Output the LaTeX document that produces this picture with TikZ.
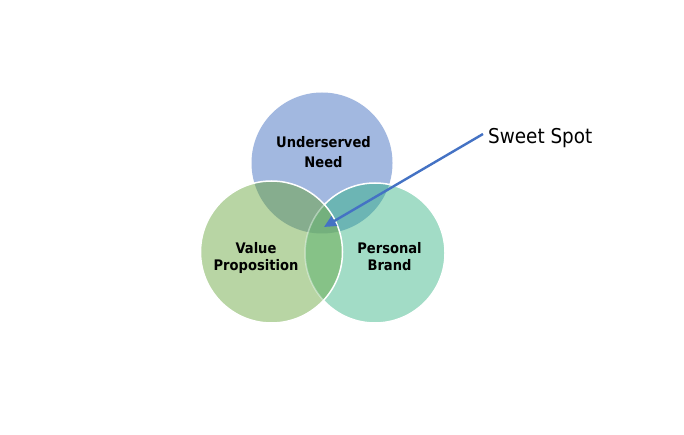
\documentclass[tikz,border=0pt]{standalone}
\usepackage{fontspec}
\usetikzlibrary{arrows.meta}
\newfontfamily\labfont{DejaVu Sans Condensed}
\definecolor{cT}{HTML}{A2B8E0}
\definecolor{cL}{HTML}{B8D5A4}
\definecolor{cR}{HTML}{A2DCC6}
\definecolor{cTL}{HTML}{86AD8E}
\definecolor{cTR}{HTML}{6CB5B4}
\definecolor{cLR}{HTML}{86C287}
\definecolor{cTLR}{HTML}{74B07D}
\definecolor{arrowblue}{HTML}{4472C4}
\def\pT{(322,163) circle[radius=70.5bp]}
\def\pL{(271.5,252) circle[radius=71bp]}
\def\pR{(375,253) circle[radius=70bp]}
\newcommand\vennfill{%
  \fill[cT] \pT; \fill[cL] \pL; \fill[cR] \pR;
  \begin{scope}\clip \pT; \fill[cTL] \pL; \fill[cTR] \pR; \end{scope}
  \begin{scope}\clip \pL; \fill[cLR] \pR; \clip \pT; \fill[cTLR] \pR; \end{scope}}
\tikzset{
  lbl/.style={font=\labfont\bfseries\fontsize{14.6}{17}\selectfont, inner sep=0pt, anchor=base, text=black},
  edge/.style={white, line width=1.5bp},
  pointer/.style={draw=arrowblue, line width=2.4bp, -{Triangle[length=12bp,width=11bp]}}
}
\begin{document}
\begin{tikzpicture}[x=1bp,y=-1bp]
\useasboundingbox (0,0) rectangle (684,435);
\fill[white] (0,0) rectangle (684,435);
\vennfill
\draw[edge] \pR;
\begin{scope}\clip \pL; \vennfill; \draw[edge, opacity=0.4] \pR; \end{scope}
\draw[edge] \pL;
\node[lbl] (und) at (323.5,148) {Underserved};
\node[lbl] (need) at (323.5,168) {Need};
\node[lbl] (val) at (256,254) {Value};
\node[lbl] (prop) at (256,271) {Proposition};
\node[lbl] (pers) at (389.5,254) {Personal};
\node[lbl] (brand) at (389.5,271) {Brand};
\node[font=\labfont\fontsize{20.5}{24}\selectfont, inner sep=0pt, anchor=base west] (sweet) at (488,144) {Sweet Spot};
\coordinate (start) at (483,134);
\coordinate (spot) at (324,227);
\draw[pointer] (start) -- (spot);
\end{tikzpicture}
\end{document}
